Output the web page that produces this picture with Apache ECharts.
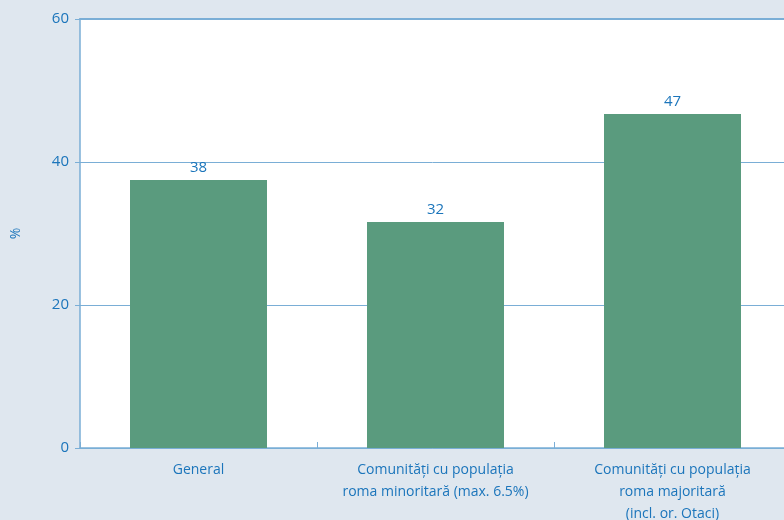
<!DOCTYPE html>
<html lang="ro">
<head>
    <meta charset="UTF-8">
    <script src="https://cdn.jsdelivr.net/npm/echarts@6/dist/echarts.min.js"></script>
    <title>Chart</title>
    <style type="text/css">
        html, body { margin: 0; padding: 0; background: #dfe7ef; }
        #main { width: 784px; height: 520px; }
    </style>
</head>
<body>
<div id="main"></div>
<script type="text/javascript">
    const categories = [
        'General',
        'Comunități cu populația\nroma minoritară (max. 6.5%)',
        'Comunități cu populația\nroma majoritară\n(incl. or. Otaci)'
    ];
    const values = [37.5, 31.6, 46.7];
    const valueLabels = ['38', '32', '47'];
    const yTicks = [0, 20, 40, 60];

    const blue = '#1b75bb';
    const lineBlue = '#7aaed6';

    const myChart = echarts.init(document.getElementById('main'));
    const option = {
        backgroundColor: '#dfe7ef',
        textStyle: { fontFamily: 'Open Sans' },
        grid: {
            left: 80, right: -7, top: 19, bottom: 72,
            outerBoundsMode: 'none', containLabel: false,
            show: true, backgroundColor: '#ffffff', borderWidth: 0
        },
        xAxis: [{
            type: 'category',
            data: categories,
            axisLine: { lineStyle: { color: lineBlue, width: 1.5 } },
            axisTick: { show: true, inside: true, interval: 0, length: 6, lineStyle: { color: lineBlue } },
            axisLabel: { color: blue, fontSize: 14, lineHeight: 22, margin: 11, interval: 0 }
        }, {
            type: 'category',
            position: 'top',
            data: categories,
            axisLine: { lineStyle: { color: lineBlue, width: 2 } },
            axisTick: { show: false },
            axisLabel: { show: false }
        }],
        yAxis: {
            type: 'value',
            min: yTicks[0],
            max: yTicks[yTicks.length - 1],
            interval: 20,
            name: '%',
            nameLocation: 'middle',
            nameGap: 57,
            nameTextStyle: { color: blue, fontSize: 14 },
            axisLine: { show: true, lineStyle: { color: lineBlue, width: 1.5 } },
            axisTick: { show: true, length: 5, lineStyle: { color: lineBlue } },
            axisLabel: { color: blue, fontSize: 15, margin: 11 },
            splitLine: { lineStyle: { color: lineBlue, width: 1 } }
        },
        series: [{
            type: 'bar',
            data: values,
            barWidth: 137,
            itemStyle: { color: '#5a9b7e' },
            label: {
                show: true,
                position: 'top',
                distance: 5,
                color: blue,
                fontSize: 15,
                formatter: function (p) { return valueLabels[p.dataIndex]; }
            }
        }]
    };
    myChart.setOption(option);
</script>
</body>
</html>
